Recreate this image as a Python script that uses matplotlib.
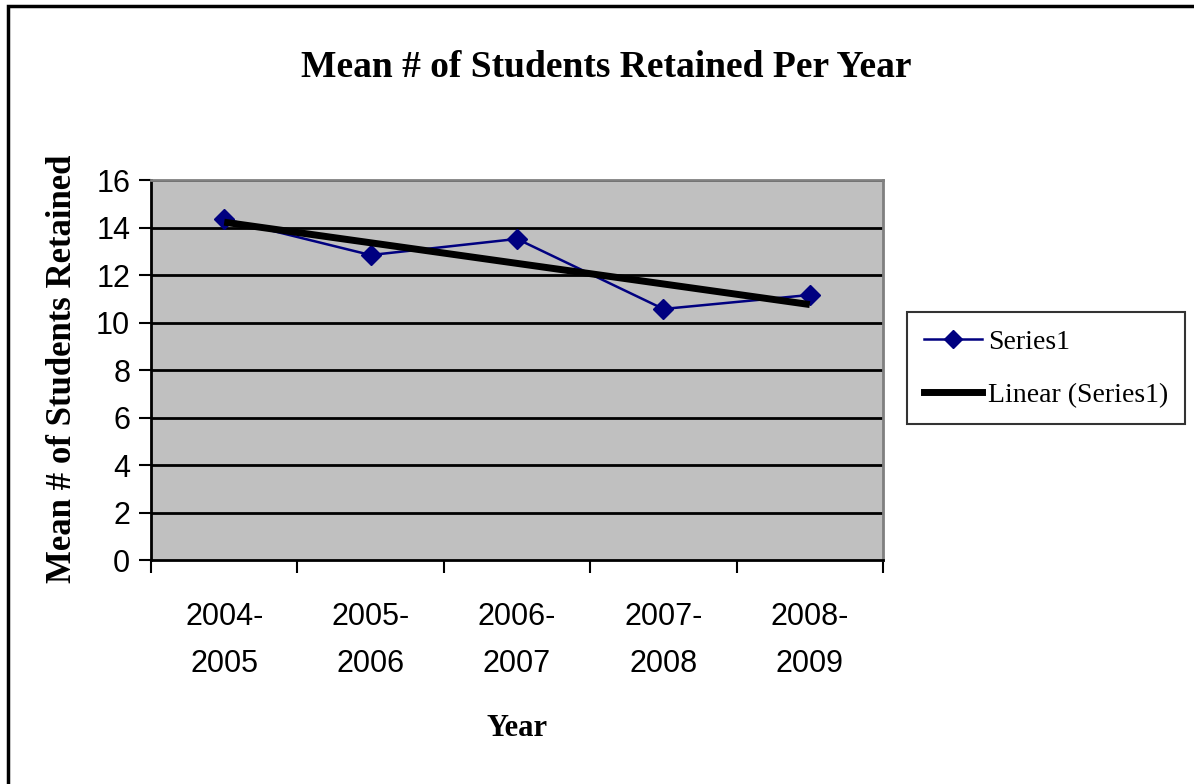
import numpy as np
import matplotlib
matplotlib.use("Agg")
import matplotlib.pyplot as plt
from matplotlib.patches import Rectangle
from matplotlib.lines import Line2D

# mean number of students retained, by school year
years = ["2004-\n2005", "2005-\n2006", "2006-\n2007", "2007-\n2008", "2008-\n2009"]
retained = [14.36, 12.84, 13.52, 10.57, 11.16]

serif = "Liberation Serif"
sans = "Liberation Sans"

fig = plt.figure(figsize=(11.94, 7.84), dpi=100)
ax = fig.add_axes([0.1265, 0.2857, 0.613, 0.4847])

x = np.arange(len(years))

# linear trend through the series
slope, icept = np.polyfit(x + 1, retained, 1)
trend = slope * (x + 1) + icept

ax.set_facecolor("#C0C0C0")
for yv in range(2, 17, 2):
    ax.axhline(yv, color="black", lw=2, zorder=1)

ax.plot(x, retained, color="#000080", lw=1.8, marker="D", ms=10,
        markerfacecolor="#000080", markeredgecolor="#000080", zorder=3)
ax.plot(x, trend, color="black", lw=5, solid_capstyle="butt", zorder=4)

ax.set_xlim(-0.5, len(years) - 0.5)
ax.set_ylim(0, 16)
ax.set_yticks(range(0, 17, 2))
ax.set_xticks(x)
ax.set_xticklabels(years, fontfamily=sans, fontsize=22, linespacing=1.75)
ax.set_xticks(np.arange(-0.5, len(years)), minor=True)
ax.tick_params(axis="x", which="major", length=0, pad=30)
ax.tick_params(axis="x", which="minor", length=9, width=1.5, direction="out")
ax.tick_params(axis="y", length=9, width=1.5, direction="out", pad=6)
for lab in ax.get_yticklabels():
    lab.set_fontfamily(sans)
    lab.set_fontsize(22)

ax.spines["left"].set_linewidth(2)
ax.spines["bottom"].set_linewidth(2)
ax.spines["top"].set_color("#808080")
ax.spines["right"].set_color("#808080")
ax.spines["top"].set_linewidth(2)
ax.spines["right"].set_linewidth(2)

fig.text(0.508, 0.914, "Mean # of Students Retained Per Year", ha="center", va="center",
         fontfamily=serif, fontweight="bold", fontsize=27)
fig.text(0.052, 0.53, "Mean # of Students Retained", ha="center", va="center",
         rotation=90, fontfamily=serif, fontweight="bold", fontsize=25)
fig.text(0.433, 0.071, "Year", ha="center", va="center",
         fontfamily=serif, fontweight="bold", fontsize=22)

handles = [
    Line2D([], [], color="#000080", lw=1.8, marker="D", ms=9),
    Line2D([], [], color="black", lw=5),
]
leg = fig.legend(handles, ["Series1", "Linear (Series1)"], loc="center left",
                 bbox_to_anchor=(0.760, 0.53), frameon=True, fancybox=False,
                 edgecolor="black", prop={"family": serif, "size": 20},
                 handlelength=2.1, handletextpad=0.2, borderpad=0.6,
                 labelspacing=1.0, borderaxespad=0)
leg.get_frame().set_linewidth(1.5)

# outer chart border
fig.patches.append(Rectangle((0.007, -0.05), 1.1, 1.042, transform=fig.transFigure,
                             fill=False, edgecolor="black", lw=2.5))

fig.savefig("out.png", dpi=100, facecolor="white")
